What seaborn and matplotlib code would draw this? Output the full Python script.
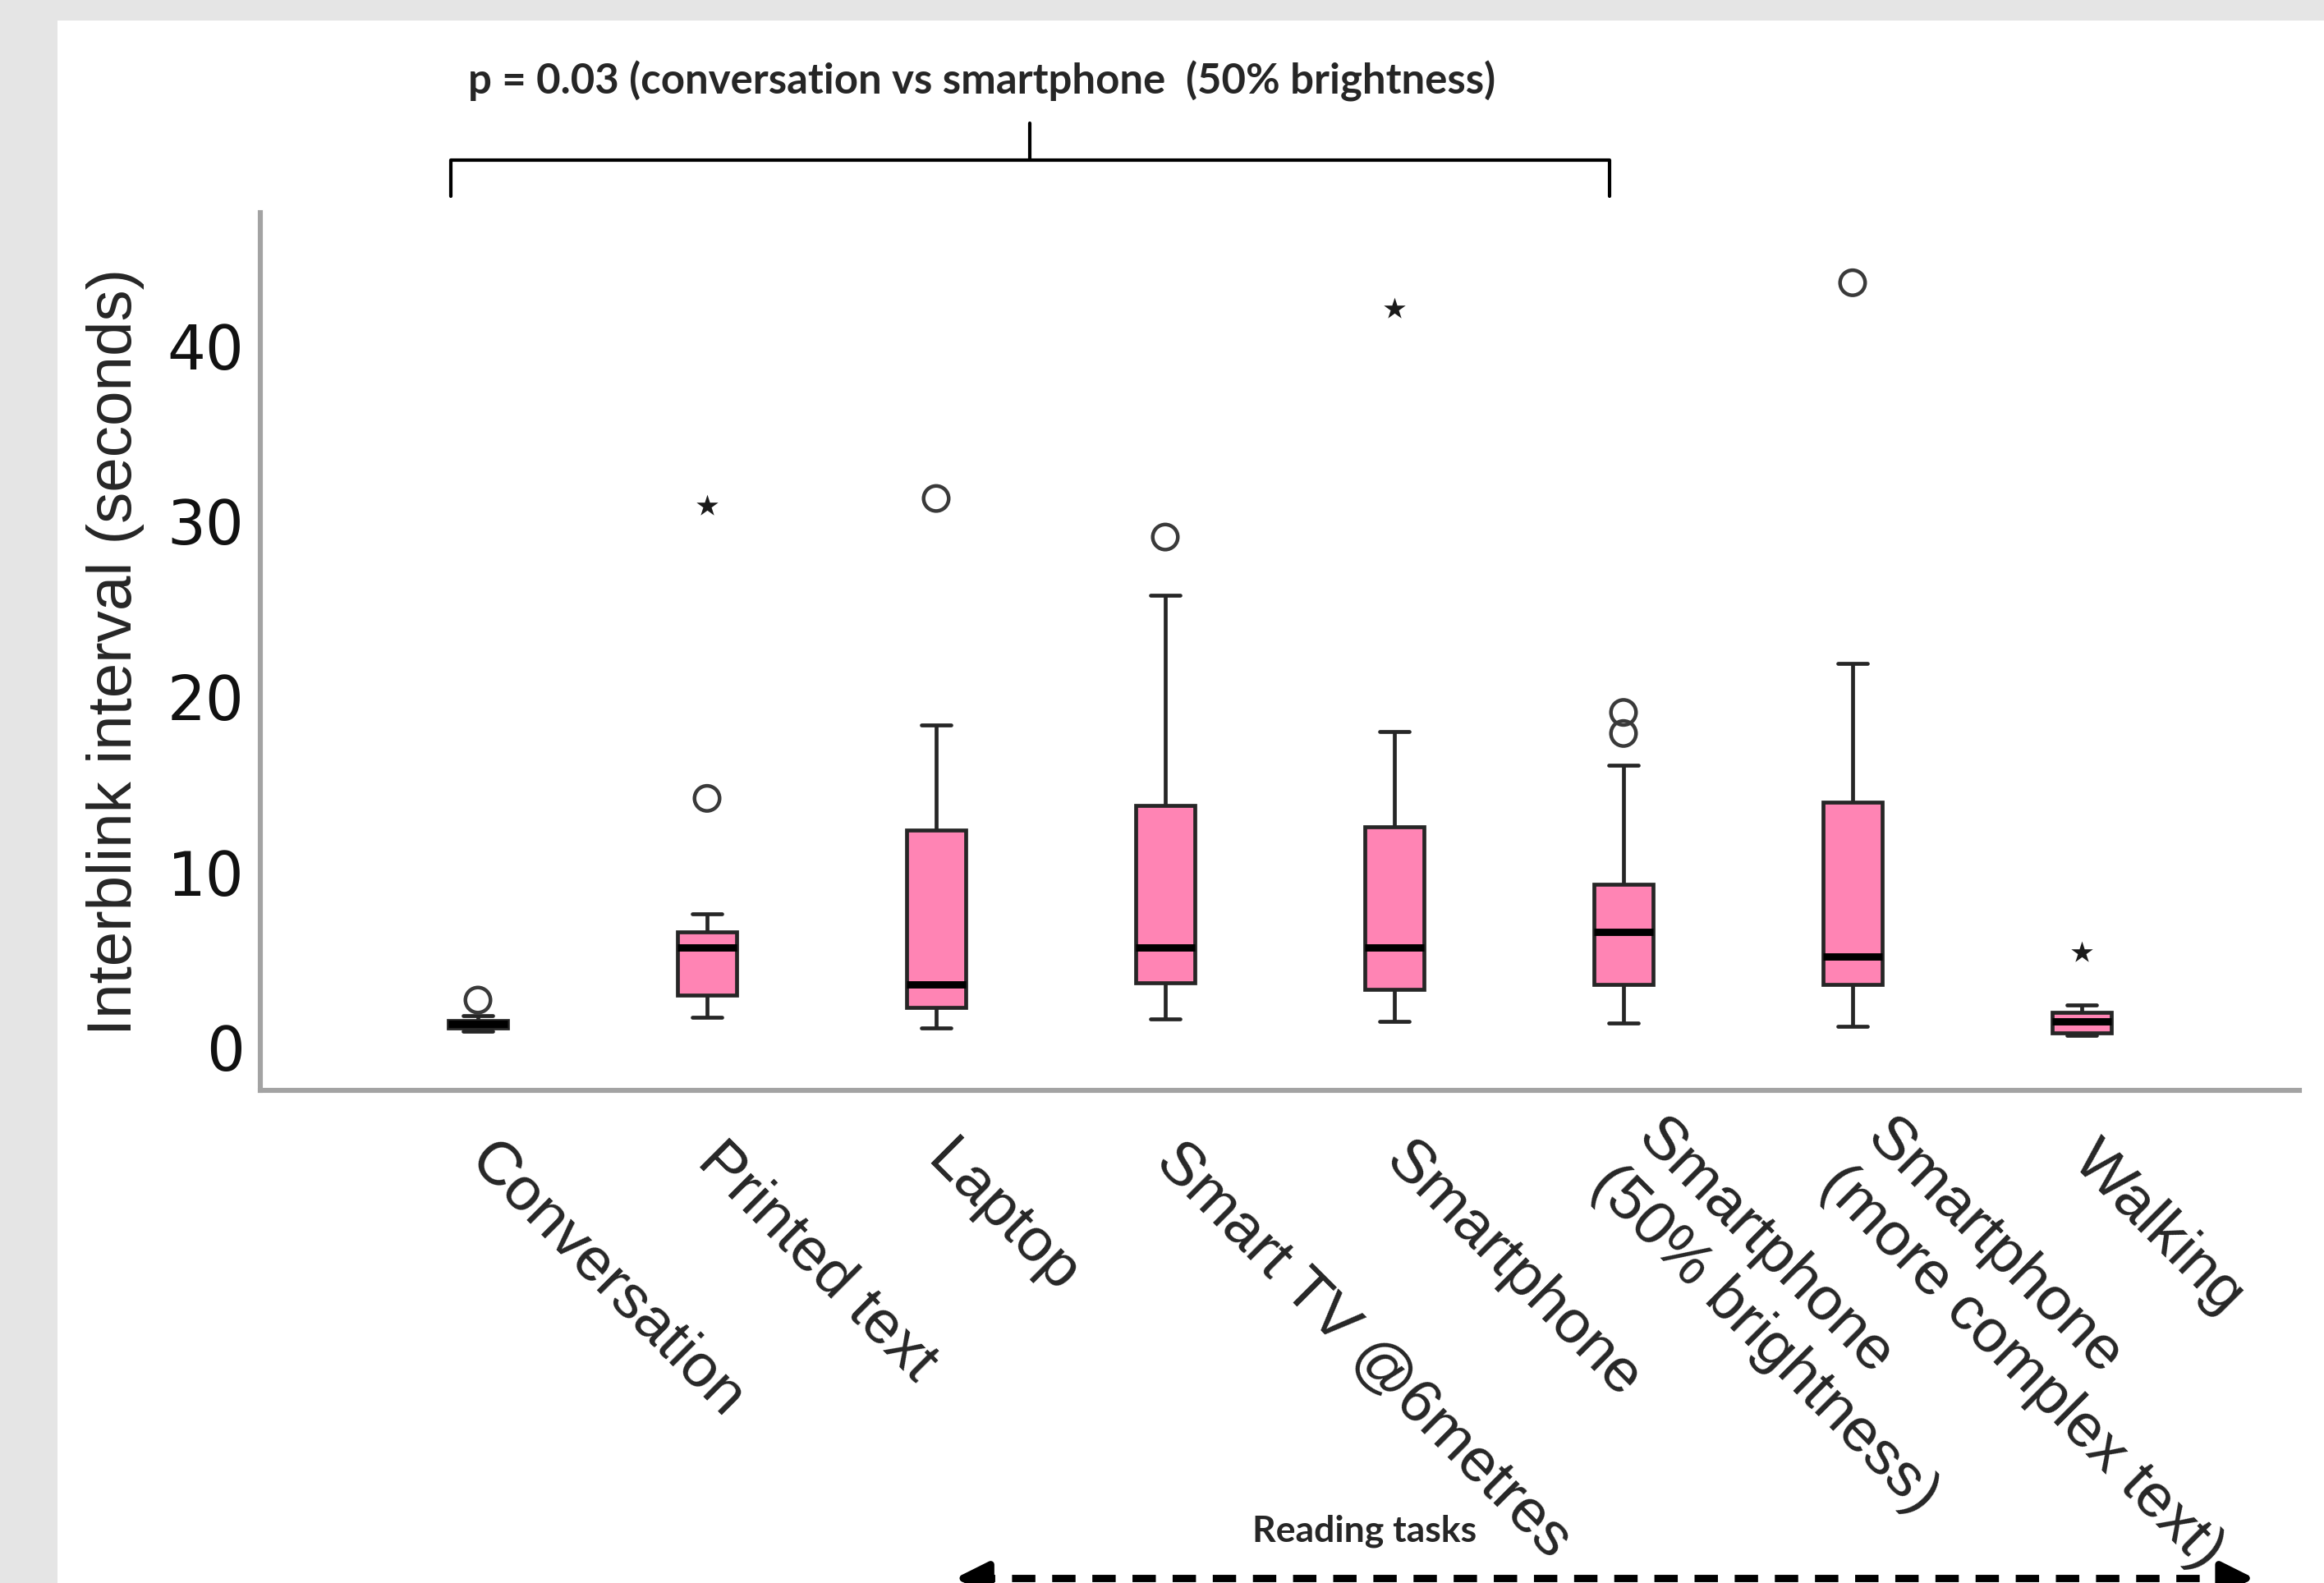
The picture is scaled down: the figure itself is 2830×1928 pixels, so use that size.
import numpy as np
import pandas as pd
import seaborn as sns
import matplotlib.pyplot as plt
import matplotlib.transforms as mtransforms
from matplotlib.lines import Line2D
from matplotlib.patches import Rectangle

# Five-number summaries (seconds)
tasks = ["Conversation", "Printed text", "Laptop", "Smart TV @6metres", "Smartphone",
         "Smartphone\n(50% brightness)", "Smartphone\n(more complex text)", "Walking"]
whisker_low = [0.9, 1.7, 1.1, 1.6, 1.5, 1.4, 1.2, 0.7]
q1 = [1.1, 3.0, 2.3, 3.7, 3.3, 3.6, 3.6, 0.85]
median = [1.35, 5.7, 3.6, 5.7, 5.7, 6.6, 5.2, 1.5]
q3 = [1.55, 6.6, 12.4, 13.8, 12.6, 9.3, 14.0, 2.0]
whisker_high = [1.8, 7.6, 18.4, 25.8, 18.0, 16.1, 21.9, 2.4]

# outliers (circles) and extremes (stars)
outlier_task = ["Conversation", "Printed text", "Laptop", "Smart TV @6metres",
                "Smartphone\n(50% brightness)", "Smartphone\n(50% brightness)",
                "Smartphone\n(more complex text)"]
outlier_value = [2.7, 14.2, 31.3, 29.1, 19.1, 17.9, 43.6]
extreme_task = ["Printed text", "Smartphone", "Walking"]
extreme_value = [30.9, 42.1, 5.4]

# long-form table: with whis=(0, 100) the box stats reproduce the summaries
summary = np.column_stack([whisker_low, q1, median, q3, whisker_high])
df = pd.DataFrame({"task": np.repeat(tasks, 5), "value": summary.ravel()})

sns.set_theme(style="white")
plt.rcParams["font.family"] = ["Liberation Sans", "DejaVu Sans"]

fig = plt.figure(figsize=(14.15, 9.64), dpi=200)
fig.patch.set_facecolor("#e5e5e5")
fig.add_artist(Rectangle((0.0247, 0), 1, 0.987, transform=fig.transFigure,
                         facecolor="white", edgecolor="none", zorder=-1))
ax = fig.add_axes([0.112, 0.3112, 0.8774, 0.5545])

pink = "#ff84b4"
sns.boxplot(data=df, x="task", y="value", order=tasks, whis=(0, 100),
            color=pink, saturation=1, linecolor="#262626", linewidth=1.7,
            width=0.26, fliersize=0,
            medianprops=dict(color="black", linewidth=3.2), ax=ax)
sns.stripplot(x=outlier_task, y=outlier_value, order=tasks, jitter=False,
              marker="o", size=11, color="#3a3a3a", facecolor="none",
              edgecolor="#3a3a3a", linewidth=1.6, ax=ax)
sns.stripplot(x=extreme_task, y=extreme_value, order=tasks, jitter=False,
              marker="*", size=10, color="#1a1a1a", linewidth=0, ax=ax)

ax.set_xlim(-0.95, 7.95)
ax.set_ylim(-2.45, 47.6)
ax.set_yticks([0, 10, 20, 30, 40])
ax.set_xlabel("")
ax.set_ylabel("Interblink interval (seconds)", fontsize=27.5, labelpad=10)

for side in ["top", "right"]:
    ax.spines[side].set_visible(False)
for side in ["left", "bottom"]:
    ax.spines[side].set_color("#a3a3a3")
    ax.spines[side].set_linewidth(2.2)

ax.tick_params(axis="y", length=0, pad=7, labelsize=26.5, labelcolor="#111111")
for lab in ax.get_yticklabels():
    lab.set_family("DejaVu Sans")
ax.tick_params(axis="x", length=17, width=0.8, color="#b0b0b0", pad=10, labelsize=27)
for lab in ax.get_xticklabels():
    lab.set_rotation(-45)
    lab.set_ha("left")
    lab.set_va("center")
    lab.set_rotation_mode("anchor")

# significance bracket above the axes
trans = mtransforms.blended_transform_factory(ax.transData, ax.transAxes)
x0, x1, xc = -0.12, 4.94, 2.41
ax.plot([x0, x0, x1, x1], [1.019, 1.060, 1.060, 1.019], color="black", lw=1.5,
        transform=trans, clip_on=False)
ax.plot([xc, xc], [1.060, 1.102], color="black", lw=1.5, transform=trans, clip_on=False)
ax.text(2.2, 1.1347, "p = 0.03 (conversation vs smartphone  (50% brightness)",
        transform=trans, ha="center", va="baseline", fontsize=18.3,
        family="Lato", fontweight="bold")

# reading tasks span at the bottom
fig.text(0.587, 0.026, "Reading tasks", ha="center", va="baseline", fontsize=16,
         family="Lato", fontweight="bold")
fig.add_artist(Line2D([0.418, 0.962], [0.003, 0.003], transform=fig.transFigure,
                      color="black", lw=3.2, linestyle=(0, (3.2, 2.3))))
for tail, head in [(0.425, 0.411), (0.955, 0.970)]:
    ax.annotate("", xy=(head, 0.003), xytext=(tail, 0.003),
                xycoords="figure fraction", textcoords="figure fraction",
                arrowprops=dict(arrowstyle="-|>", color="black", lw=3.2,
                                mutation_scale=30, shrinkA=0, shrinkB=0))

fig.savefig("out.png", dpi=200)
